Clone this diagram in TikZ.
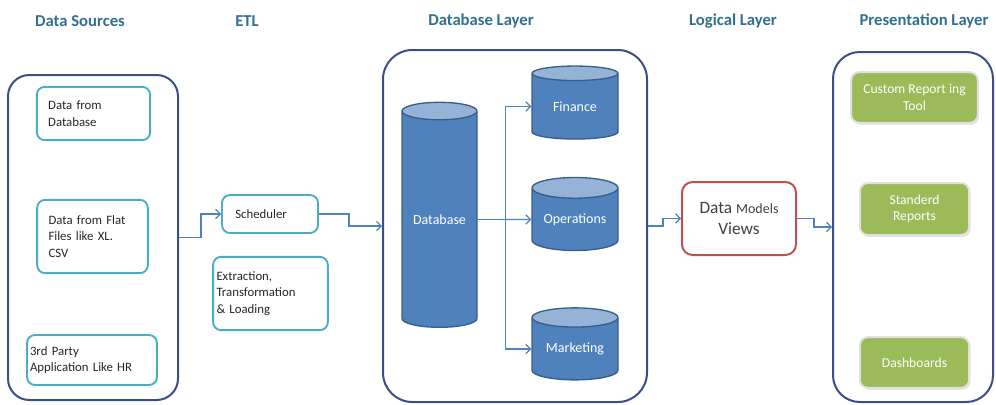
\documentclass[tikz,border=0pt]{standalone}
\usepackage{fontspec}
\setmainfont{Carlito}
\usetikzlibrary{shapes.geometric, arrows.meta, positioning, calc, shadows}
\definecolor{titleteal}{RGB}{49,112,143}
\definecolor{layerblue}{RGB}{59,78,135}
\definecolor{srcblue}{RGB}{75,172,198}
\definecolor{flowblue}{RGB}{79,129,189}
\definecolor{dbedge}{RGB}{56,93,138}
\definecolor{dbtop}{RGB}{149,179,215}
\definecolor{modelred}{RGB}{192,80,77}
\definecolor{reportgreen}{RGB}{155,187,89}

\tikzset{
  layertitle/.style={font=\bfseries\fontsize{12.5}{15}\selectfont, text=titleteal},
  layerbox/.style={draw=layerblue, line width=1.5pt, rounded corners=16pt, inner sep=0pt},
  srcbox/.style={draw=srcblue, line width=1.4pt, rounded corners=6pt, align=left, font=\fontsize{9.6}{12.5}\selectfont, text=black!85, inner sep=0pt},
  dbcyl/.style={cylinder, shape border rotate=90, aspect=0.33, draw=dbedge, line width=1pt, cylinder uses custom fill, cylinder body fill=flowblue, cylinder end fill=dbtop, text=white, font=\fontsize{10.5}{13}\selectfont, inner sep=0pt},
  reportbox/.style={fill=reportgreen, draw=black!12, line width=1.5pt, rounded corners=6pt, text=white, align=center, font=\fontsize{10.2}{12.5}\selectfont, inner sep=0pt, drop shadow={shadow xshift=1pt, shadow yshift=-1.5pt, opacity=0.2}},
  flow/.style={->, >={Straight Barb[length=3.5pt,width=7pt]}, draw=flowblue, line width=0.9pt}
}

\begin{document}
\begin{tikzpicture}[x=0.75pt, y=-0.75pt]
        \useasboundingbox (0,0) rectangle (996,404);

        % headings
        \node[layertitle] (tsrc) at (80,21) {Data Sources};
        \node[layertitle] (tetl) at (247,21) {ETL};
        \node[layertitle] (tdb) at (481,21) {Database Layer};
        \node[layertitle] (tlog) at (733,21) {Logical Layer};
        \node[layertitle] (tpres) at (924,21) {Presentation Layer};

        % outer layers
        \node[layerbox, minimum width=127.5pt, minimum height=243.75pt] (sources) at (93,237.5) {};
        \node[layerbox, minimum width=198pt, minimum height=264pt, rounded corners=22pt] (dblayer) at (515,226) {};
        \node[layerbox, minimum width=120pt, minimum height=262.5pt, rounded corners=20pt] (present) at (913,227) {};

        % data sources
        \node[srcbox, minimum width=85pt, minimum height=40pt, text width=68pt] (srcdb) at (93.5,113.5) {Data from\\Database};
        \node[srcbox, minimum width=83pt, minimum height=55pt, text width=66pt] (srcflat) at (92.5,236.5) {Data from Flat\\Files like XL.\\CSV};
        \node[srcbox, minimum width=97.5pt, minimum height=37.5pt, text width=93pt] (srcapp) at (92,360) {3rd Party\\Application Like HR};

        % ETL
        \node[srcbox, minimum width=72pt, minimum height=28.5pt, text width=52pt] (sched) at (270,214) {Scheduler};
        \node[srcbox, minimum width=86pt, minimum height=55pt, text width=81pt] (etl) at (270.5,293.5) {Extraction,\\Transformation\\\& Loading};

        % database layer
        \node[dbcyl, minimum width=56.25pt, minimum height=168.75pt] (db) at (439.5,219.5) {Database};
        \node[dbcyl, minimum width=64.5pt, minimum height=54.75pt] (fin) at (575,106.5) {Finance};
        \node[dbcyl, minimum width=64.5pt, minimum height=54.75pt] (ops) at (575,219.5) {Operations};
        \node[dbcyl, minimum width=64.5pt, minimum height=54pt] (mkt) at (575,349) {Marketing};

        % logical layer
        \node[draw=modelred, line width=1.5pt, rounded corners=8pt, minimum width=85.5pt, minimum height=54.75pt, align=center, text=black!75, font=\fontsize{13}{16}\selectfont] (models) at (739,218.5) {Data {\fontsize{10.5}{12}\selectfont Models}\\Views};

        % presentation layer
        \node[reportbox, minimum width=95pt, minimum height=38pt] (custom) at (914.5,97.5) {Custom Report ing\\Tool};
        \node[reportbox, minimum width=82pt, minimum height=39pt] (std) at (914.5,209) {Standerd\\Reports};
        \node[reportbox, minimum width=82pt, minimum height=38pt] (dash) at (914.5,362.5) {Dashboards};

        % flows
        \draw[flow] (sources.east) -- ++(22,0) |- (sched.west);
        \draw[flow] (sched.east) -- ++(30,0) |- (dblayer.west);
        \draw[flow] (db.east) -- ++(28,0) coordinate (fork) |- (fin.west);
        \draw[flow] (fork) -- (ops.west);
        \draw[flow] (fork) |- (mkt.west);
        \draw[flow] (dblayer.east) -- ++(15,0) |- (models.west);
        \draw[flow] (models.east) -- ++(17,0) |- (present.west);
    \end{tikzpicture}
\end{document}
